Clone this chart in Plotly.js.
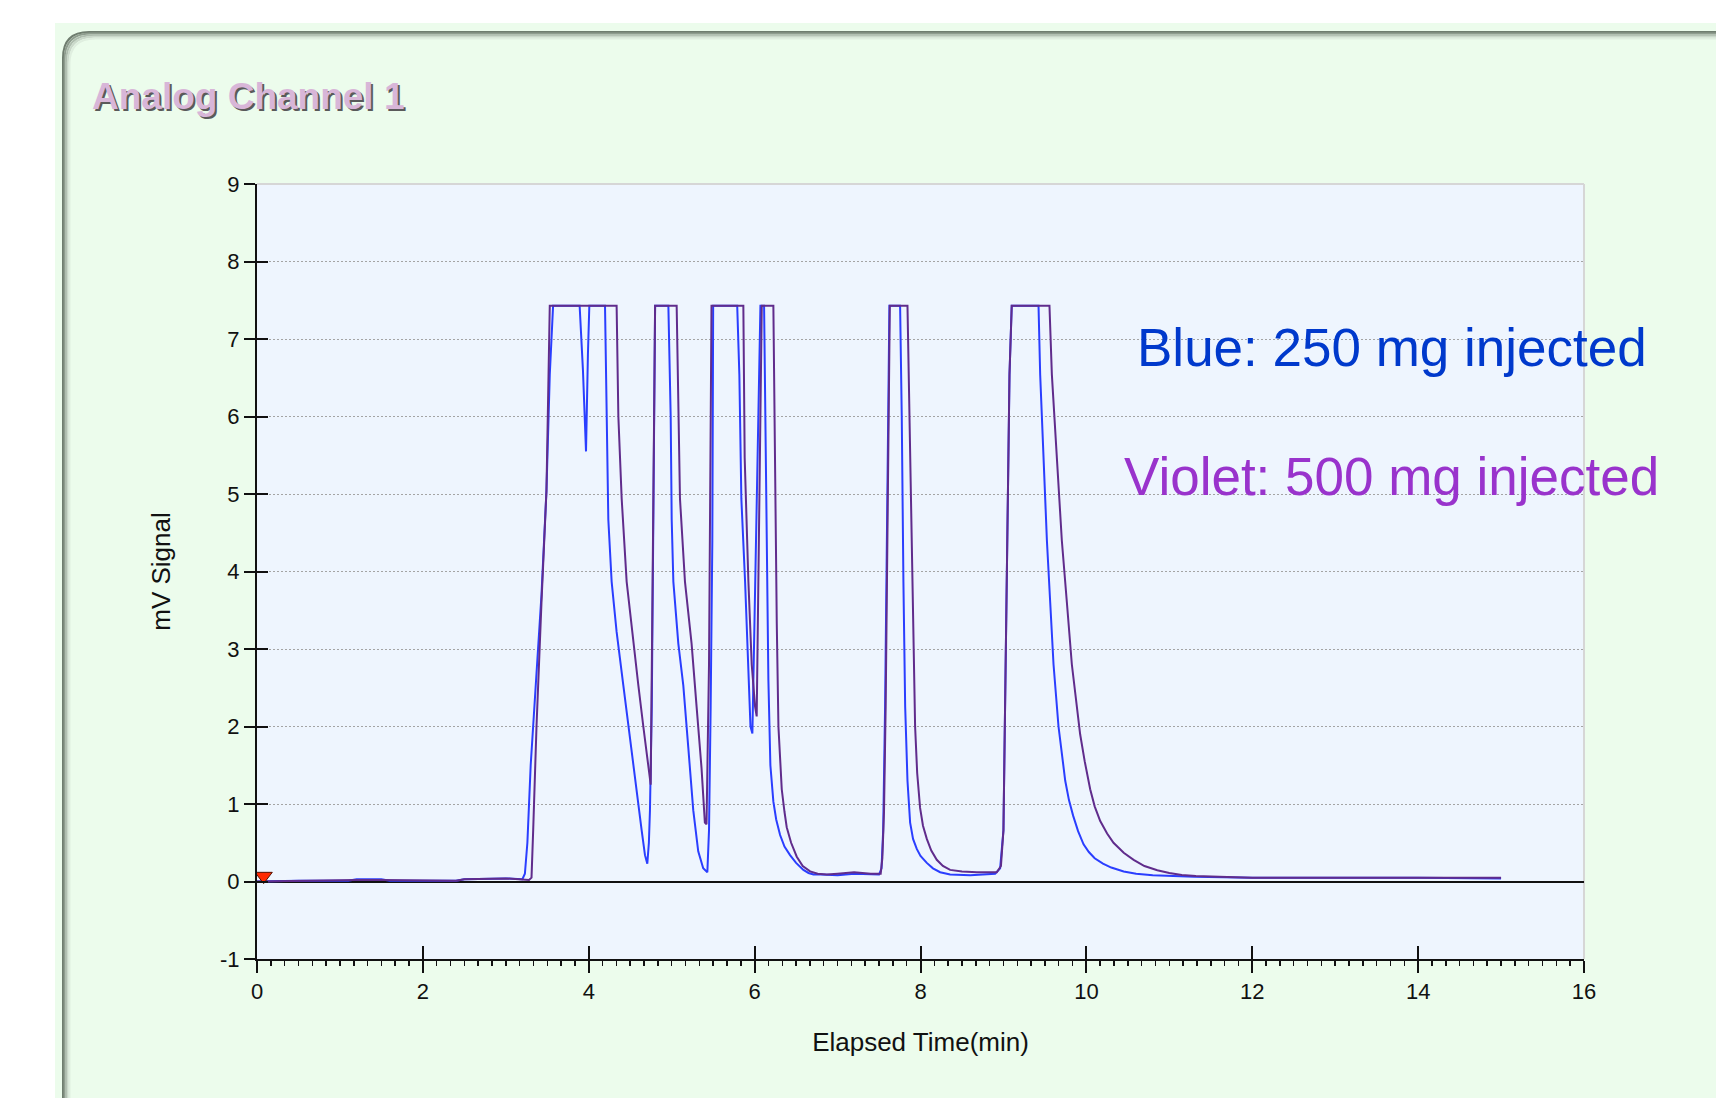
<!DOCTYPE html>
<html>
<head>
<meta charset="utf-8">
<script src="https://cdn.plot.ly/plotly-3.0.1.min.js"></script>
<style>
  html, body { margin: 0; padding: 0; background: #ffffff; }
  #chart { width: 1716px; height: 1098px; }
</style>
</head>
<body>
<div id="chart"></div>
<script>
// ---- Data ----
const chartTitle = "Analog Channel 1";
const xTitle = "Elapsed Time(min)";
const yTitle = "mV Signal";
const blueLabel = "Blue: 250 mg injected";
const violetLabel = "Violet: 500 mg injected";

// Blue trace: 250 mg injected
const blueTime = [0.0, 0.5, 1.1, 1.2, 1.5, 1.6, 2.4, 2.5, 3.0, 3.15, 3.2, 3.23, 3.26, 3.3, 3.33, 3.38, 3.43, 3.49, 3.53, 3.57,
  3.89, 3.93, 3.967, 3.99, 4.007, 4.196, 4.216, 4.236, 4.276, 4.336, 4.417, 4.497, 4.578, 4.638, 4.678, 4.706, 4.725, 4.738, 4.76, 4.78, 4.8,
  4.96, 4.988, 5.0, 5.02, 5.08, 5.14, 5.2, 5.26, 5.32, 5.38, 5.43, 5.45, 5.47, 5.49, 5.5,
  5.79, 5.816, 5.84, 5.885, 5.925, 5.95, 5.973, 6.005, 6.045, 6.07, 6.114, 6.14, 6.166, 6.19, 6.226, 6.26, 6.307, 6.36, 6.427, 6.5, 6.588, 6.65, 6.709,
  6.8, 7.0, 7.2, 7.4, 7.5, 7.53, 7.55, 7.573, 7.593, 7.613, 7.625, 7.754, 7.774, 7.794, 7.815, 7.843, 7.875, 7.91, 7.955, 8.0, 8.076, 8.15, 8.237, 8.357,
  8.6, 8.9, 8.96, 9.0, 9.02, 9.04, 9.073, 9.1, 9.423, 9.443, 9.483, 9.524, 9.564, 9.604, 9.664, 9.7, 9.745, 9.79, 9.84, 9.9, 9.966, 10.03, 10.1,
  10.2, 10.3, 10.45, 10.6, 10.8, 11.0, 11.3, 12.0, 13.0, 14.0, 15.0];
const blueSignal = [0.0, 0.01, 0.01, 0.03, 0.03, 0.01, 0.01, 0.03, 0.04, 0.03, 0.03, 0.1, 0.5, 1.5, 2.0, 2.9, 3.7, 5.04, 6.54, 7.43,
  7.43, 6.6, 5.55, 6.8, 7.43, 7.43, 6.0, 4.67, 3.87, 3.22, 2.53, 1.83, 1.19, 0.66, 0.34, 0.23, 0.5, 0.92, 2.26, 4.4, 7.43,
  7.43, 6.0, 4.67, 3.87, 3.07, 2.53, 1.73, 0.92, 0.39, 0.17, 0.12, 0.66, 2.26, 4.4, 7.43,
  7.43, 6.54, 4.94, 3.87, 2.8, 2.0, 1.91, 3.87, 6.0, 7.43, 7.43, 4.9, 2.6, 1.5, 1.03, 0.8, 0.6, 0.45, 0.34, 0.24, 0.15, 0.11, 0.09,
  0.09, 0.08, 0.1, 0.09, 0.09, 0.17, 0.66, 2.26, 4.4, 6.54, 7.43, 7.43, 6.0, 3.87, 2.26, 1.3, 0.76, 0.55, 0.42, 0.33, 0.24, 0.17, 0.12, 0.09,
  0.08, 0.1, 0.17, 0.66, 2.26, 4.4, 6.54, 7.43, 7.43, 6.54, 5.47, 4.4, 3.6, 2.8, 2.0, 1.69, 1.3, 1.05, 0.85, 0.65, 0.48, 0.38, 0.3,
  0.23, 0.18, 0.13, 0.1, 0.08, 0.07, 0.06, 0.05, 0.05, 0.05, 0.04];

// Violet trace: 500 mg injected
const violetTime = [0.0, 0.5, 1.2, 1.5, 2.4, 2.5, 3.0, 3.28, 3.31, 3.33, 3.37, 3.43, 3.49, 3.53,
  4.336, 4.357, 4.397, 4.457, 4.537, 4.598, 4.658, 4.718, 4.747, 4.77, 4.8,
  5.06, 5.08, 5.1, 5.16, 5.24, 5.3, 5.36, 5.4, 5.42, 5.45, 5.48,
  5.864, 5.88, 5.925, 5.965, 6.005, 6.025, 6.045, 6.065, 6.086, 6.226, 6.246, 6.267, 6.287, 6.31, 6.327, 6.36, 6.387, 6.44, 6.508, 6.58, 6.669, 6.76, 6.87,
  7.0, 7.2, 7.4, 7.52, 7.54, 7.56, 7.58, 7.6, 7.618, 7.63, 7.843, 7.867, 7.895, 7.935, 7.96, 7.995, 8.03, 8.076, 8.13, 8.196, 8.27, 8.357, 8.5, 8.68, 8.92,
  8.97, 9.0, 9.02, 9.04, 9.073, 9.1, 9.555, 9.584, 9.644, 9.704, 9.765, 9.825, 9.925, 9.98, 10.046, 10.1, 10.167, 10.25, 10.327, 10.45, 10.57, 10.7, 10.855,
  11.0, 11.15, 11.32, 11.6, 12.0, 13.0, 14.0, 15.0];
const violetSignal = [0.0, 0.01, 0.02, 0.02, 0.01, 0.03, 0.04, 0.02, 0.05, 0.66, 2.0, 3.6, 5.04, 7.43,
  7.43, 6.0, 4.94, 3.87, 3.07, 2.53, 2.0, 1.51, 1.25, 3.87, 7.43,
  7.43, 6.0, 4.94, 3.87, 3.07, 2.26, 1.46, 0.76, 0.74, 2.8, 7.43,
  7.43, 5.47, 3.87, 2.8, 2.26, 2.13, 3.87, 6.0, 7.43, 7.43, 4.94, 3.33, 2.0, 1.5, 1.19, 0.9, 0.7, 0.5, 0.32, 0.2, 0.13, 0.1, 0.09,
  0.1, 0.12, 0.1, 0.1, 0.3, 0.9, 2.26, 4.4, 6.54, 7.43, 7.43, 6.0, 3.87, 2.0, 1.4, 0.95, 0.72, 0.55, 0.4, 0.28, 0.2, 0.15, 0.13, 0.12, 0.12,
  0.2, 0.66, 2.26, 4.4, 6.54, 7.43, 7.43, 6.54, 5.47, 4.4, 3.6, 2.8, 1.9, 1.55, 1.19, 0.97, 0.78, 0.62, 0.5, 0.37, 0.28, 0.2, 0.145,
  0.11, 0.085, 0.07, 0.06, 0.05, 0.05, 0.05, 0.05];

// Injection marker
const injectionTime = [0.08];
const injectionSignal = [0.07];

const xTickVals = [0, 2, 4, 6, 8, 10, 12, 14, 16];
const xTickText = ['0', '2', '4', '6', '8', '10', '12', '14', '16'];
const yTickVals = [-1, 0, 1, 2, 3, 4, 5, 6, 7, 8, 9];
const yTickText = ['-1', '0', '1', '2', '3', '4', '5', '6', '7', '8', '9'];

// ---- Layout helpers (pixel -> paper fraction) ----
const W = 1716, H = 1098;
const L = 257, R = 1584, T = 184, B = 959;
const px = X => (X - L) / (R - L);
const py = Y => (B - Y) / (B - T);

function framePath(off) {
  const x = 63 + off, y = 32 + off, r = 26;
  return `M ${px(x)} ${py(H + 20)} L ${px(x)} ${py(y + r)} Q ${px(x)} ${py(y)} ${px(x + r)} ${py(y)} L ${px(W + 20)} ${py(y)}`;
}

const frameColors = ['#6f7d6f', '#8e9c8e', '#aebcae', '#cad8ca', '#dfeedf'];
const frameShapes = frameColors.map((c, i) => ({
  type: 'path', xref: 'paper', yref: 'paper', layer: 'below',
  path: framePath(i * 1.6), line: { color: c, width: 2 }
}));

const font = "'Liberation Sans', Arial, sans-serif";
const titleFont = "'Liberation Sans Narrow', 'Arial Narrow', 'Liberation Sans', Arial, sans-serif";

const traces = [
  {
    x: blueTime, y: blueSignal, type: 'scatter', mode: 'lines',
    line: { color: '#2a3eff', width: 2 }, hoverinfo: 'skip'
  },
  {
    x: violetTime, y: violetSignal, type: 'scatter', mode: 'lines',
    line: { color: '#602c8c', width: 2 }, hoverinfo: 'skip'
  },
  {
    x: injectionTime, y: injectionSignal, type: 'scatter', mode: 'markers',
    xaxis: 'x2', yaxis: 'y2',
    marker: { symbol: 'triangle-down', size: 15, color: '#ff2a00', line: { color: '#551100', width: 1 } },
    hoverinfo: 'skip'
  }
];

const layout = {
  width: W, height: H,
  margin: { l: L, r: W - R, t: T, b: H - B, pad: 0 },
  paper_bgcolor: '#ffffff',
  plot_bgcolor: 'rgba(0,0,0,0)',
  showlegend: false,
  font: { family: font, color: '#111' },
  xaxis: {
    range: [0, 16], tickvals: xTickVals, ticktext: xTickText, ticks: 'outside', ticklen: 12, tickwidth: 2, tickcolor: '#111',
    showline: true, linecolor: '#111', linewidth: 2, showgrid: false, zeroline: false,
    tickfont: { size: 22, family: font, color: '#111' },
    minor: { dtick: 1 / 6, ticks: 'outside', ticklen: 5, tickwidth: 1.5, tickcolor: '#111', showgrid: false },
    title: { text: xTitle, font: { size: 26, family: font, color: '#111' }, standoff: 29 },
    automargin: false, fixedrange: true
  },
  yaxis: {
    range: [-1, 9], tickvals: yTickVals, ticktext: yTickText, ticks: 'outside', ticklen: 11, tickwidth: 2, tickcolor: '#111',
    showline: true, linecolor: '#111', linewidth: 2,
    showgrid: true, gridcolor: '#a4a4a4', gridwidth: 1, griddash: '2px,2px',
    zeroline: true, zerolinecolor: '#111', zerolinewidth: 2,
    tickfont: { size: 22, family: font, color: '#111' },
    title: { text: yTitle, font: { size: 26, family: font, color: '#111' }, standoff: 42 },
    automargin: false, fixedrange: true
  },
  xaxis2: {
    overlaying: 'x', anchor: 'y2', side: 'bottom', range: [0, 16], tickvals: xTickVals,
    ticks: 'inside', ticklen: 13, tickwidth: 2, tickcolor: '#111',
    showticklabels: false, showgrid: false, zeroline: false, showline: false, fixedrange: true
  },
  yaxis2: {
    overlaying: 'y', anchor: 'x2', side: 'left', range: [-1, 9], tickvals: yTickVals,
    ticks: 'inside', ticklen: 11, tickwidth: 2, tickcolor: '#111',
    showticklabels: false, showgrid: false, zeroline: false, showline: false, fixedrange: true
  },
  shapes: [
    // mint panel background
    { type: 'rect', xref: 'paper', yref: 'paper', layer: 'below',
      x0: px(55), x1: px(W + 20), y0: py(H + 20), y1: py(23),
      fillcolor: '#ecfcec', line: { width: 0 } },
    ...frameShapes,
    // plot area background
    { type: 'rect', xref: 'paper', yref: 'paper', layer: 'below',
      x0: 0, x1: 1, y0: 0, y1: 1, fillcolor: '#eef5fe', line: { width: 0 } },
    // light top & right border of the plot area
    { type: 'line', xref: 'paper', yref: 'paper', layer: 'below',
      x0: 0, x1: 1, y0: 1, y1: 1, line: { color: '#d6d6d6', width: 2 } },
    { type: 'line', xref: 'paper', yref: 'paper', layer: 'below',
      x0: 1, x1: 1, y0: 0, y1: 1, line: { color: '#d6d6d6', width: 2 } }
  ],
  annotations: [
    { text: '<b>' + chartTitle + '</b>', xref: 'paper', yref: 'paper', x: px(90), y: py(96),
      xanchor: 'left', yanchor: 'middle', showarrow: false, xshift: 2, yshift: -2,
      font: { family: titleFont, size: 37, color: '#5a5a5a' } },
    { text: '<b>' + chartTitle + '</b>', xref: 'paper', yref: 'paper', x: px(90), y: py(96),
      xanchor: 'left', yanchor: 'middle', showarrow: false,
      font: { family: titleFont, size: 37, color: '#d8b6d8' } },
    { text: blueLabel, xref: 'paper', yref: 'paper', x: px(1135), y: py(347),
      xanchor: 'left', yanchor: 'middle', showarrow: false,
      font: { family: font, size: 53, color: '#0039cc' } },
    { text: violetLabel, xref: 'paper', yref: 'paper', x: px(1122), y: py(476),
      xanchor: 'left', yanchor: 'middle', showarrow: false,
      font: { family: font, size: 53, color: '#9933cc' } }
  ]
};

Plotly.newPlot('chart', traces, layout, { staticPlot: true, displayModeBar: false });
</script>
</body>
</html>
